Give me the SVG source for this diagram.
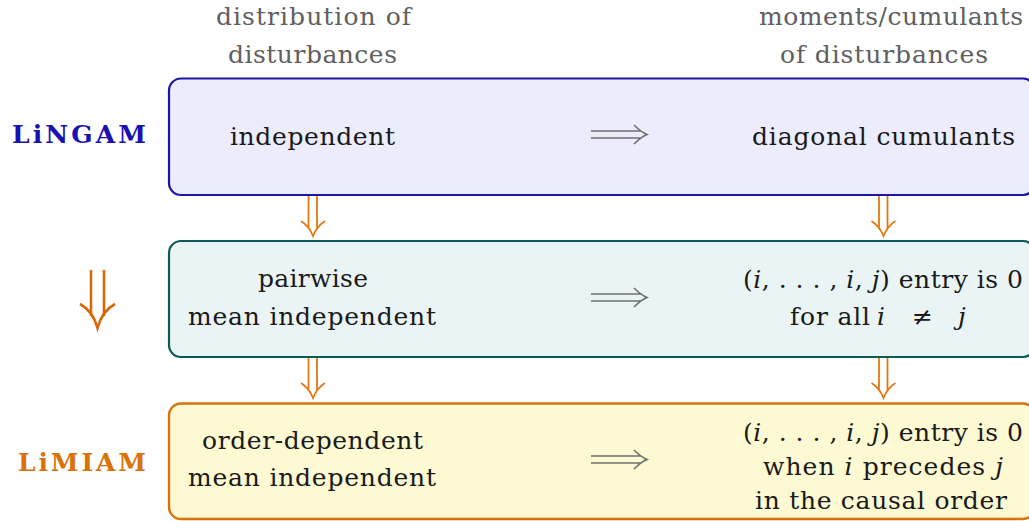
<svg xmlns="http://www.w3.org/2000/svg" width="1029" height="521" viewBox="0 0 1029 521">
<style>
text{font-family:"DejaVu Serif","Liberation Serif",serif;font-size:25px;fill:#1a1a1a}
.hdr{fill:#606060}
.lbl{font-weight:bold;font-size:25px}
.it{font-style:italic}
.imp{fill:none;stroke:#707070;stroke-width:1.6}
.oa{fill:none;stroke:#e07a14;stroke-width:1.8}
.ob{fill:none;stroke:#d46a0a;stroke-width:2.6}
</style>
<rect width="1029" height="521" fill="#ffffff"/>
<g id="headers">
<text class="hdr" x="313.5" y="25" text-anchor="middle" textLength="195">distribution of</text>
<text class="hdr" x="312.5" y="63" text-anchor="middle" textLength="169">disturbances</text>
<text class="hdr" x="891" y="25" text-anchor="middle" textLength="264">moments/cumulants</text>
<text class="hdr" x="884" y="63" text-anchor="middle" textLength="208">of disturbances</text>
</g>
<g id="label-lingam"><text class="lbl" x="12" y="143" style="fill:#1a12b0" textLength="134">LiNGAM</text></g>
<g id="label-limiam"><text class="lbl" x="18" y="471" style="fill:#d9720a" textLength="128">LiMIAM</text></g>
<g id="box-lingam">
<rect x="169" y="78.5" width="866" height="116.5" rx="12" fill="#ececfc" stroke="#1c16a6" stroke-width="2.2"/>
<text x="312.5" y="145" text-anchor="middle" textLength="165">independent</text>
<text x="883.5" y="145" text-anchor="middle" textLength="263">diagonal cumulants</text>
<path class="imp" d="M591 131H641M591 138H641M634 125Q641 132 647 134.5Q641 137 634 144"/>
</g>
<g id="box-pairwise">
<rect x="169" y="241" width="866" height="116" rx="12" fill="#eaf4f5" stroke="#0c5a55" stroke-width="2.2"/>
<text x="313" y="287" text-anchor="middle" textLength="110">pairwise</text>
<text x="312" y="325" text-anchor="middle" textLength="248">mean independent</text>
<text x="883" y="288" text-anchor="middle" textLength="280">(<tspan class="it">i</tspan>, . . . , <tspan class="it">i</tspan>, <tspan class="it">j</tspan>) entry is 0</text>
<text x="790" y="325" textLength="80">for all</text>
<text class="it" x="877" y="325">i</text>
<text x="912" y="325">≠</text>
<text class="it" x="958" y="325">j</text>
<path class="imp" d="M591 294H641M591 301H641M634 288Q641 295 647 297.5Q641 300 634 307"/>
</g>
<g id="box-limiam">
<rect x="169" y="403.5" width="866" height="115.5" rx="12" fill="#fdf9d3" stroke="#d9720a" stroke-width="2.4"/>
<text x="312.5" y="449" text-anchor="middle" textLength="221">order-dependent</text>
<text x="312" y="486" text-anchor="middle" textLength="248">mean independent</text>
<text x="883" y="441" text-anchor="middle" textLength="280">(<tspan class="it">i</tspan>, . . . , <tspan class="it">i</tspan>, <tspan class="it">j</tspan>) entry is 0</text>
<text x="883" y="475" text-anchor="middle" textLength="240">when <tspan class="it">i</tspan> precedes <tspan class="it">j</tspan></text>
<text x="881" y="509" text-anchor="middle" textLength="252">in the causal order</text>
<path class="imp" d="M591 456H641M591 463H641M634 450Q641 457 647 459.5Q641 462 634 469"/>
</g>
<g id="connectors">
<path class="oa" d="M308.5 196V229M317 196V229M301 221Q309 226 313 236Q317 226 325 221"/>
<path class="oa" d="M879 196V229M887.5 196V229M871.5 221Q879.5 226 883.5 236Q887.5 226 895.5 221"/>
<path class="oa" d="M308.5 358V391M317 358V391M301 383Q309 388 313 398Q317 388 325 383"/>
<path class="oa" d="M879 358V391M887.5 358V391M871.5 383Q879.5 388 883.5 398Q887.5 388 895.5 383"/>
<path class="ob" d="M91 270V316M104 270V316M80 304Q93 311 97.5 328Q102 311 115 304"/>
</g>
</svg>
